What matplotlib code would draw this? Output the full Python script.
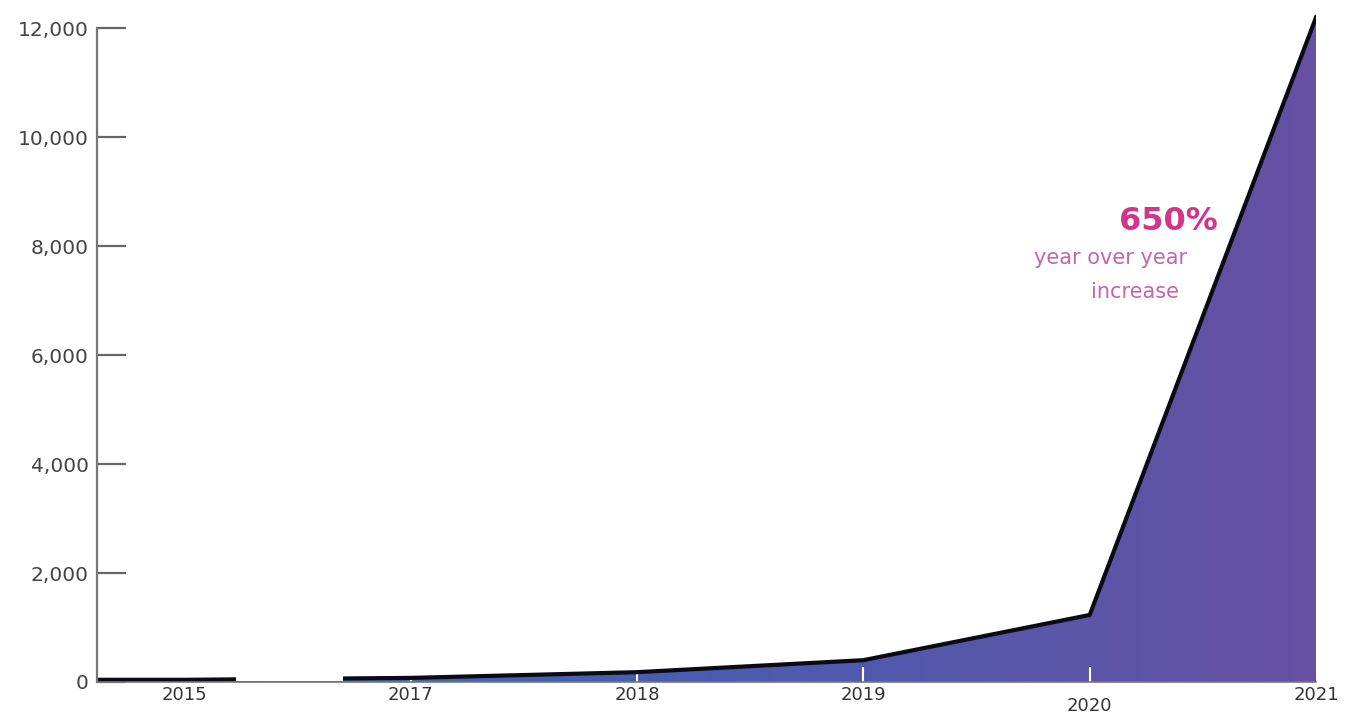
import matplotlib.pyplot as plt
import numpy as np
from matplotlib.colors import LinearSegmentedColormap

# yearly totals
years = ['2015', '2017', '2018', '2019', '2020', '2021']
totals = [40, 75, 180, 400, 1230, 12200]
y_ticks = [0, 2000, 4000, 6000, 8000, 10000, 12000]

x = np.arange(len(years))
x_left = -0.385  # axis starts a bit before the first year

fig = plt.figure(figsize=(13.45, 7.13), dpi=100)
ax = fig.add_axes([0.0721, 0.0435, 0.9064, 0.940])

xs = np.concatenate([[x_left], x])
ys = np.concatenate([[totals[0]], totals])

# gradient fill under the curve, clipped to the area polygon
poly = ax.fill_between(xs, 0, ys, color='none', lw=0)
cmap = LinearSegmentedColormap.from_list('bluepurple', ['#3d6fb6', '#4a5cb0', '#6650a2'])
grad = np.linspace(0, 1, 256).reshape(1, -1)
img = ax.imshow(grad, cmap=cmap, aspect='auto', extent=[x_left, x[-1], 0, max(totals)],
                origin='lower', zorder=1)
img.set_clip_path(poly.get_paths()[0], transform=ax.transData)

ax.plot(xs, ys, color='#0a0a14', lw=3.0, solid_joinstyle='round', zorder=3)

# blank stretch between the first two years
ax.axvspan(0.23, 0.70, ymin=0.0015, color='white', zorder=4, lw=0)

ax.set_xlim(x_left, x[-1])
ax.set_ylim(0, 12300)

ax.set_xticks(x)
ax.set_xticklabels(years, fontsize=13, color='#333333')
ax.tick_params(axis='x', direction='in', color='white', length=11, width=1.5, pad=3)
ax.get_xticklabels()[4].set_y(-0.016)
ax.xaxis.get_major_ticks()[-1].tick1line.set_visible(False)

ax.set_yticks(y_ticks)
ax.set_yticklabels([f'{v:,}' for v in y_ticks], fontsize=14.5, color='#444444')
ax.tick_params(axis='y', direction='in', color='#666666', length=21, width=1.6, pad=6)

for side in ['top', 'right']:
    ax.spines[side].set_visible(False)
ax.spines['left'].set_color('#777777')
ax.spines['left'].set_linewidth(1.6)
ax.spines['left'].set_bounds(0, 12000)
ax.spines['bottom'].set_color('#777777')
ax.spines['bottom'].set_linewidth(1.2)
ax.spines['left'].set_zorder(5)
ax.spines['bottom'].set_zorder(5)

ax.text(4.565, 8450, '650%', fontsize=23, fontweight='bold', color='#d4358a', ha='right', va='center')
ax.text(4.09, 7790, 'year over year', fontsize=15, color='#c066aa', ha='center', va='center')
ax.text(4.2, 7150, 'increase', fontsize=15, color='#c066aa', ha='center', va='center')

fig.savefig('out.png', dpi=100)
